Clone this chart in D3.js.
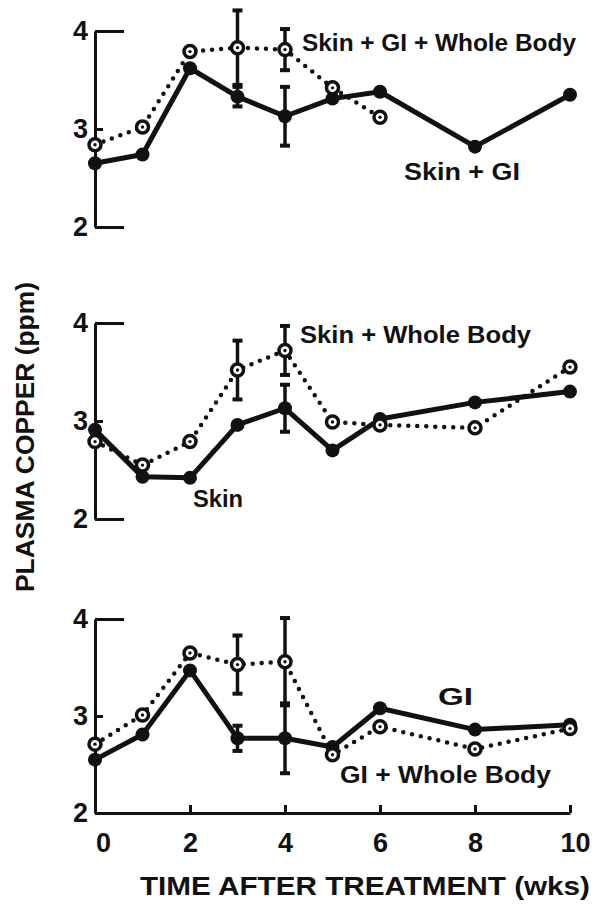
<!DOCTYPE html>
<html>
<head>
<meta charset="utf-8">
<script src="https://cdn.jsdelivr.net/npm/d3@7"></script>
<style>
  html, body { margin: 0; padding: 0; background: #fff; }
  svg { display: block; }
  text { font-family: "Liberation Sans", Arial, sans-serif; font-weight: bold; fill: #111; }
</style>
</head>
<body>
<svg id="chart" width="607" height="907"></svg>
<script>
// ---------- DATA ----------
const weeks = [0, 1, 2, 3, 4, 5, 6, 8, 10];
const xTicks = [0, 2, 4, 6, 8, 10];
const yTicks = [2, 3, 4];

// Panel 1
const skinGI        = [2.65, 2.74, 3.62, 3.33, 3.13, 3.31, 3.38, 2.82, 3.35];
const skinGIErr     = [null, null, null, 0.10, 0.30, null, null, null, null];
const skinGIWB      = [2.84, 3.02, 3.79, 3.83, 3.81, 3.42, 3.12];
const skinGIWBErr   = [null, null, null, 0.38, 0.21, null, null];

// Panel 2
const skin          = [2.91, 2.43, 2.42, 2.96, 3.13, 2.70, 3.02, 3.19, 3.30];
const skinErr       = [null, null, null, null, 0.24, null, null, null, null];
const skinWB        = [2.79, 2.55, 2.79, 3.52, 3.72, 2.99, 2.96, 2.93, 3.55];
const skinWBErr     = [null, null, null, 0.30, 0.25, null, null, null, null];

// Panel 3
const gi            = [2.55, 2.81, 3.47, 2.77, 2.77, 2.68, 3.08, 2.86, 2.91];
const giErr         = [null, null, null, 0.13, 0.36, null, null, null, null];
const giWB          = [2.71, 3.01, 3.65, 3.53, 3.56, 2.60, 2.89, 2.66, 2.87];
const giWBErr       = [null, null, null, 0.30, 0.45, null, null, null, null];

const xTitle = "TIME AFTER TREATMENT (wks)";
const yTitle = "PLASMA COPPER (ppm)";

// ---------- LAYOUT ----------
const svg = d3.select("#chart");
const ink = "#111";
const x = d3.scaleLinear().domain([0, 10]).range([95, 570]);

const panels = [
  { range: [227, 31], solid: skinGI, solidErr: skinGIErr, dotted: skinGIWB, dottedErr: skinGIWBErr,
    labels: [ { t: "Skin + GI + Whole Body", x: 302, y: 51, w: 274 }, { t: "Skin + GI", x: 404, y: 180, w: 116 } ] },
  { range: [519, 323], solid: skin, solidErr: skinErr, dotted: skinWB, dottedErr: skinWBErr,
    labels: [ { t: "Skin + Whole Body", x: 300, y: 343, w: 231 }, { t: "Skin", x: 193, y: 507, w: 50 } ] },
  { range: [813, 619], solid: gi, solidErr: giErr, dotted: giWB, dottedErr: giWBErr, xAxis: true,
    labels: [ { t: "GI", x: 438, y: 705, w: 35 }, { t: "GI + Whole Body", x: 340, y: 783, w: 211 } ] }
];

panels.forEach(p => {
  const y = d3.scaleLinear().domain([2, 4]).range(p.range);
  const g = svg.append("g");

  // y axis (ticks pointing right, labels left)
  const ya = g.append("g").attr("transform", `translate(${x(0)},0)`)
    .call(d3.axisLeft(y).tickValues(yTicks).tickFormat(d3.format("d"))
      .tickSizeInner(-29).tickSizeOuter(0).tickPadding(7));
  ya.select(".domain").attr("stroke", ink).attr("stroke-width", 3);
  ya.selectAll(".tick line").attr("stroke", ink).attr("stroke-width", 3)
    .attr("x2", d => d === 3 ? 8 : 29);
  ya.selectAll(".tick text").attr("font-size", 27).attr("fill", ink);

  // x axis for bottom panel
  if (p.xAxis) {
    const xa = g.append("g").attr("transform", `translate(0,${y(2)})`)
      .call(d3.axisBottom(x).tickValues(xTicks).tickFormat(d3.format("d"))
        .tickSizeInner(-8).tickSizeOuter(0).tickPadding(20));
    xa.select(".domain").attr("stroke", ink).attr("stroke-width", 3);
    xa.selectAll(".tick line").attr("stroke", ink).attr("stroke-width", 3);
    xa.selectAll(".tick text").attr("font-size", 27).attr("fill", ink)
      .attr("dx", d => d === 0 ? 8 : (d === 10 ? 5 : 0));
  }

  const dotPts = p.dotted.map((v, i) => ({ w: weeks[i], v, e: p.dottedErr[i] }));
  const solPts = p.solid.map((v, i) => ({ w: weeks[i], v, e: p.solidErr[i] }));
  const line = d3.line().x(d => x(d.w)).y(d => y(d.v));

  // error bars
  const drawErr = pts => {
    const eg = g.append("g");
    pts.filter(d => d.e != null).forEach(d => {
      const cx = x(d.w), y1 = y(d.v + d.e), y2 = y(d.v - d.e);
      eg.append("line").attr("x1", cx).attr("x2", cx).attr("y1", y1).attr("y2", y2)
        .attr("stroke", ink).attr("stroke-width", 3.5);
      [y1, y2].forEach(yy => eg.append("line").attr("x1", cx - 5).attr("x2", cx + 5)
        .attr("y1", yy).attr("y2", yy).attr("stroke", ink).attr("stroke-width", 4));
    });
  };
  drawErr(dotPts);
  drawErr(solPts);

  // dotted series line
  g.append("path").datum(dotPts).attr("d", line).attr("fill", "none")
    .attr("stroke", ink).attr("stroke-width", 4.5).attr("stroke-linecap", "round")
    .attr("stroke-dasharray", "0 9");

  // solid series line
  g.append("path").datum(solPts).attr("d", line).attr("fill", "none")
    .attr("stroke", ink).attr("stroke-width", 5).attr("stroke-linejoin", "round");

  // solid markers
  g.selectAll(null).data(solPts).enter().append("circle")
    .attr("cx", d => x(d.w)).attr("cy", d => y(d.v)).attr("r", 7).attr("fill", ink);

  // open markers
  g.selectAll(null).data(dotPts).enter().append("circle")
    .attr("cx", d => x(d.w)).attr("cy", d => y(d.v)).attr("r", 6)
    .attr("fill", "#fff").attr("stroke", ink).attr("stroke-width", 3.5);
  g.selectAll(null).data(dotPts).enter().append("circle")
    .attr("cx", d => x(d.w)).attr("cy", d => y(d.v)).attr("r", 1.7).attr("fill", ink);

  // series labels
  p.labels.forEach(l => {
    g.append("text").attr("x", l.x).attr("y", l.y).attr("font-size", 23)
      .attr("textLength", l.w).attr("lengthAdjust", "spacingAndGlyphs").text(l.t);
  });
});

// axis titles
svg.append("text").attr("x", 140).attr("y", 895).attr("font-size", 26)
  .attr("textLength", 450).attr("lengthAdjust", "spacingAndGlyphs").text(xTitle);

svg.append("text").attr("transform", "translate(34,592) rotate(-90)")
  .attr("font-size", 26).attr("textLength", 310).attr("lengthAdjust", "spacingAndGlyphs").text(yTitle);
</script>
</body>
</html>
